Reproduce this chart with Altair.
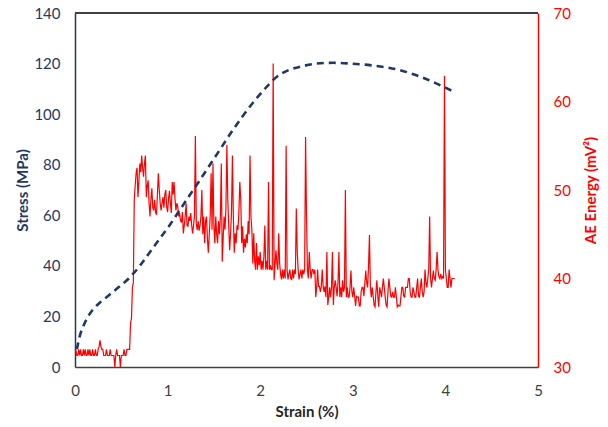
import altair as alt
import pandas as pd

# ---- Stress (MPa) vs strain (%) : dashed curve ----
stress_strain = [0.02, 0.05, 0.10, 0.15, 0.20, 0.27, 0.37, 0.47, 0.58, 0.70, 0.81, 0.92,
                 1.03, 1.13, 1.24, 1.35, 1.53, 1.71, 1.90, 2.07, 2.18, 2.30, 2.43, 2.61,
                 2.79, 2.97, 3.20, 3.51, 3.75, 3.97, 4.10]
stress_mpa = [7, 12, 17, 20.5, 23, 25.5, 28.5, 31.5, 35, 40, 45.5, 51,
              56.5, 62, 68, 74, 84, 94, 103.5, 110.8, 114.8, 117.3, 118.7, 120,
              120.3, 120, 119.3, 117.4, 114.5, 111, 108.7]

# ---- AE energy (mV^2), sampled every 0.01 % strain from 0.00 to 4.10 ----
ae_start = 0.0
ae_step = 0.01
ae_energy = [
    32.0, 31.8, 31.3, 31.3, 32.0, 31.3, 32.0, 31.3, 31.3, 32.0,   # 0.00
    31.3, 32.0, 31.3, 31.3, 32.0, 31.3, 32.0, 31.3, 31.3, 32.0,   # 0.10
    31.3, 31.3, 32.0, 31.3, 31.3, 32.0, 32.3, 33.0, 32.3, 32.0,   # 0.20
    32.0, 31.3, 31.3, 31.3, 32.0, 31.3, 31.3, 31.3, 32.0, 31.3,   # 0.30
    31.3, 31.3, 31.3, 30.0, 31.3, 32.0, 31.3, 31.3, 31.3, 30.0,   # 0.40
    31.3, 31.3, 31.3, 32.0, 31.3, 31.3, 32.0, 32.0, 32.0, 32.0,   # 0.50
    35.0, 35.5, 39.0, 39.5, 48.9, 50.5, 51.9, 52.5, 49.2, 51.0,   # 0.60
    53.0, 52.0, 53.9, 52.5, 51.5, 53.0, 53.9, 49.2, 50.5, 51.1,   # 0.70
    48.5, 47.0, 49.0, 50.2, 48.0, 47.7, 48.9, 47.5, 47.2, 49.5,   # 0.80
    51.9, 50.0, 48.5, 47.7, 48.5, 49.2, 48.0, 49.5, 50.0, 48.1,   # 0.90
    47.5, 49.0, 49.9, 48.5, 47.4, 50.9, 49.5, 50.9, 49.0, 47.7,   # 1.00
    48.5, 48.1, 47.0, 47.4, 46.5, 46.4, 47.5, 45.1, 46.0, 47.0,   # 1.10
    48.5, 46.0, 45.9, 47.0, 46.5, 47.4, 46.0, 45.1, 46.0, 47.0,   # 1.20
    56.1, 46.2, 45.5, 46.5, 45.4, 46.0, 47.0, 50.0, 45.0, 47.0,   # 1.30
    44.0, 46.5, 47.0, 44.5, 42.9, 45.0, 47.0, 51.9, 45.5, 53.0,   # 1.40
    46.0, 44.0, 47.0, 45.0, 44.0, 46.5, 45.0, 47.0, 53.0, 41.9,   # 1.50
    44.5, 47.0, 45.5, 48.0, 55.1, 48.9, 46.0, 43.2, 45.0, 47.5,   # 1.60
    53.9, 47.0, 42.9, 45.1, 44.0, 46.0, 45.5, 47.5, 50.9, 48.9,   # 1.70
    44.0, 45.9, 42.9, 44.5, 43.5, 45.0, 44.0, 46.5, 45.0, 53.9,   # 1.80
    47.0, 45.5, 41.7, 45.1, 42.0, 41.0, 44.0, 41.0, 42.5, 41.5,   # 1.90
    43.0, 41.0, 42.0, 41.0, 42.5, 46.0, 41.0, 42.0, 41.0, 50.9,   # 2.00
    41.0, 41.5, 41.0, 41.0, 64.3, 39.8, 41.5, 43.2, 41.7, 41.0,   # 2.10
    45.1, 41.7, 40.5, 39.9, 41.0, 40.0, 41.0, 40.0, 55.0, 41.0,   # 2.20
    39.9, 40.5, 41.0, 40.0, 39.9, 41.0, 40.0, 41.0, 40.5, 47.9,   # 2.30
    43.0, 41.0, 39.9, 40.5, 41.0, 40.0, 41.0, 40.5, 41.0, 56.0,   # 2.40
    47.0, 41.0, 40.0, 43.0, 41.0, 40.0, 41.0, 41.0, 40.5, 41.0,   # 2.50
    37.9, 39.0, 41.0, 39.1, 39.1, 38.5, 39.1, 41.0, 39.1, 38.5,   # 2.60
    39.1, 37.9, 43.0, 37.0, 37.9, 39.0, 37.9, 39.0, 43.0, 37.0,   # 2.70
    39.0, 39.8, 39.0, 38.0, 39.5, 43.0, 37.9, 39.0, 37.9, 39.8,   # 2.80
    38.5, 39.0, 50.0, 37.9, 39.0, 37.9, 37.9, 39.0, 40.9, 38.5,   # 2.90
    37.9, 39.0, 38.0, 36.9, 38.0, 37.9, 37.9, 36.9, 36.9, 38.5,   # 3.00
    39.0, 39.0, 38.0, 39.5, 40.9, 39.5, 39.0, 41.5, 44.9, 39.0,   # 3.10
    37.9, 39.0, 38.0, 37.0, 36.8, 38.5, 39.8, 38.0, 36.8, 39.0,   # 3.20
    38.5, 37.9, 39.0, 40.0, 39.0, 37.9, 37.0, 36.8, 38.5, 40.0,   # 3.30
    39.0, 38.0, 37.9, 38.5, 37.9, 37.9, 39.0, 38.0, 36.8, 37.0,   # 3.40
    36.9, 36.9, 38.0, 39.0, 39.0, 38.0, 37.9, 39.0, 39.0, 39.0,   # 3.50
    40.0, 40.0, 38.5, 37.9, 37.9, 39.0, 38.5, 37.9, 37.9, 39.0,   # 3.60
    40.0, 38.0, 37.9, 39.0, 40.0, 38.5, 37.9, 38.5, 41.0, 39.5,   # 3.70
    39.0, 40.0, 41.0, 47.0, 40.0, 39.0, 40.0, 40.9, 40.0, 39.8,   # 3.80
    41.0, 43.0, 41.0, 40.2, 40.0, 40.5, 40.0, 40.2, 40.0, 62.9,   # 3.90
    41.0, 40.0, 39.0, 39.0, 41.0, 40.0, 39.0, 40.0, 40.0, 40.0,   # 4.00
    40.0,                                                         # 4.10
]

x_ticks = [0, 1, 2, 3, 4, 5]
stress_ticks = [0, 20, 40, 60, 80, 100, 120, 140]
ae_ticks = [30, 40, 50, 60, 70]

NAVY = "#1F3864"
RED = "#FF0000"
FONT = "Lato"

df_stress = pd.DataFrame({"strain": stress_strain, "stress": stress_mpa})
df_ae = pd.DataFrame({
    "strain": [round(ae_start + i * ae_step, 2) for i in range(len(ae_energy))],
    "ae": ae_energy,
})

x_enc = alt.X(
    "strain:Q",
    scale=alt.Scale(domain=[0, 5], nice=False, zero=False),
    axis=alt.Axis(
        values=x_ticks, format="d", title="Strain (%)", grid=False, ticks=False,
        tickSize=0, labelPadding=16, labelFlush=False, labelColor="#404040",
        labelFontSize=15, labelFont=FONT, domainColor="#404040", domainWidth=1.5,
        titleColor="#262626", titleFontSize=15, titleFont=FONT, titleFontWeight="bold",
        titlePadding=6,
    ),
)

stress_line = alt.Chart(df_stress).mark_line(
    color=NAVY, strokeWidth=2.6, strokeDash=[7, 5], interpolate="monotone"
).encode(
    x=x_enc,
    y=alt.Y(
        "stress:Q",
        scale=alt.Scale(domain=[0, 140], nice=False),
        axis=alt.Axis(
            orient="left", values=stress_ticks, title="Stress (MPa)", grid=False,
            ticks=False, tickSize=0, labelPadding=15, labelColor=NAVY,
            labelFontSize=15, labelFont=FONT, domainColor=NAVY, domainWidth=1.5,
            titleColor=NAVY, titleFontSize=15, titleFont=FONT, titleFontWeight="bold",
            titleAngle=270, titleX=-53, titleY=177, titleAlign="center",
            titleBaseline="middle",
        ),
    ),
)

ae_line = alt.Chart(df_ae).mark_line(color=RED, strokeWidth=1.2).encode(
    x=alt.X("strain:Q"),
    y=alt.Y(
        "ae:Q",
        scale=alt.Scale(domain=[30, 70], nice=False, zero=False),
        axis=alt.Axis(
            orient="right", values=ae_ticks, title="AE Energy (mV²)", grid=False,
            ticks=False, tickSize=0, labelPadding=15, labelColor=RED,
            labelFontSize=15, labelFont=FONT, domainColor=RED, domainWidth=1.5,
            titleColor=RED, titleFontSize=15, titleFont=FONT, titleFontWeight="bold",
            titleAngle=270, titleX=52, titleY=177, titleAlign="center",
            titleBaseline="middle",
        ),
    ),
)

top_border = alt.Chart(df_stress).mark_rule(color="#404040", strokeWidth=1.5).encode(
    x=alt.value(0), x2=alt.value(463), y=alt.value(0)
)

chart = (
    alt.layer(top_border, ae_line, stress_line)
    .resolve_scale(y="independent")
    .properties(
        width=463, height=354, autosize="none",
        padding={"left": 75, "top": 13, "right": 70, "bottom": 60},
    )
    .configure_view(stroke=None)
    .configure(background="white")
)

chart.save("out.html", embed_options={"renderer": "svg", "actions": False})
